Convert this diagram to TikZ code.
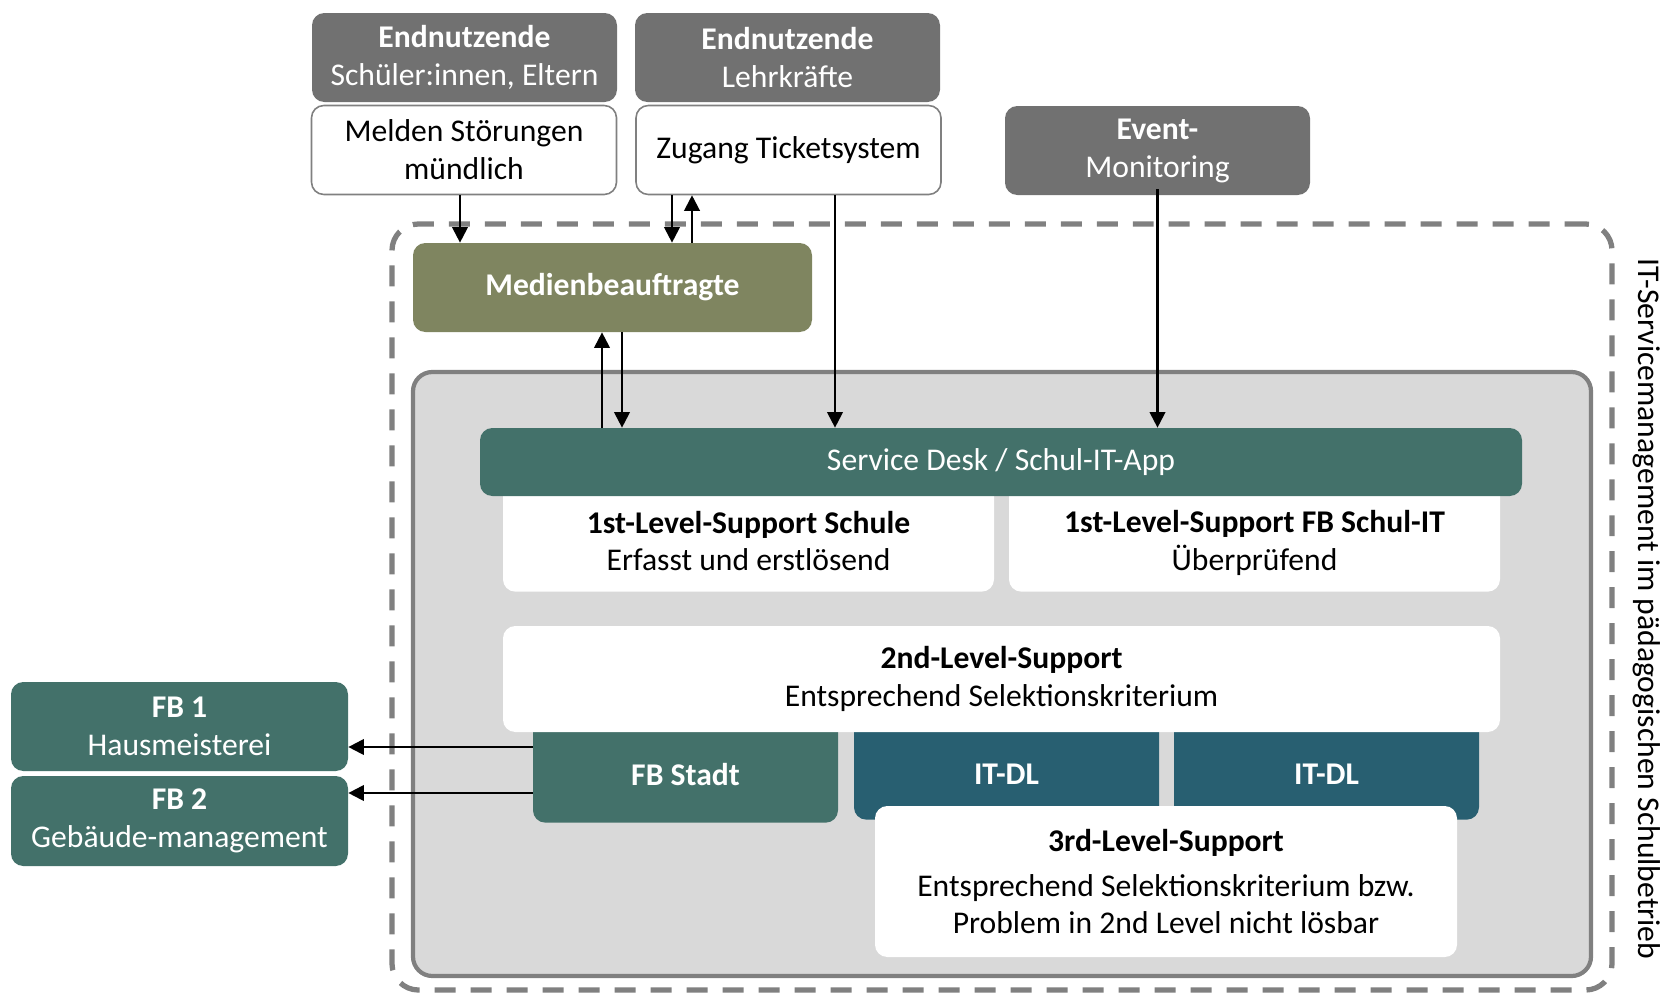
\documentclass[tikz,border=0pt]{standalone}
\usepackage{fontspec}
\setmainfont{Carlito}
\usepackage{tikz}
\usetikzlibrary{arrows.meta}

\definecolor{usergray}{HTML}{717171}
\definecolor{olive}{HTML}{7F8560}
\definecolor{teal}{HTML}{43716A}
\definecolor{petrol}{HTML}{285F71}
\definecolor{panelgray}{HTML}{D9D9D9}
\definecolor{linegray}{HTML}{808080}

% one unit of the drawing grid
\newdimen\pxu \pxu=0.02cm

\tikzset{
  every node/.style={font=\fontsize{18}{21.6}\selectfont, align=center, inner sep=0pt},
  box/.style={rounded corners=7pt, minimum width=305\pxu, minimum height=89\pxu},
  userbox/.style={box, fill=usergray, text=white},
  inbox/.style={box, fill=white, draw=linegray, line width=0.9pt},
  olivebox/.style={box, fill=olive, text=white},
  tealbox/.style={box, fill=teal, text=white},
  petrolbox/.style={box, fill=petrol, text=white},
  levelbox/.style={box, fill=white},
  arr/.style={line width=1.2pt, -{Triangle[length=3.1mm,width=3.1mm]}},
}

\begin{document}
\begin{tikzpicture}[x=0.02cm, y=-0.02cm]
  \useasboundingbox (0,0) rectangle (1663,994);

  % outer frame: IT service management
  \node[draw=linegray, line width=3pt, dash pattern=on 0.42cm off 0.3cm, rounded corners=15pt,
        minimum width=1220\pxu, minimum height=766\pxu] (ism) at (1002,607) {};
  \node[rotate=-90] (ismlabel) at (1647,609) {IT-Servicemanagement im pädagogischen Schulbetrieb};

  % end users and monitoring
  \node[userbox] (sus) at (464.5,57.5) {\textbf{Endnutzende}\\Schüler:innen, Eltern};
  \node[inbox] (melden) at (464,150) {Melden Störungen\\mündlich};
  \node[userbox] (lk) at (787.5,57.5) {\textbf{Endnutzende}\\Lehrkräfte};
  \node[inbox] (zugang) at (788.5,150) {Zugang Ticketsystem};
  \node[userbox] (event) at (1157.5,150.5) {\textbf{Event-}\\Monitoring};

  \node[olivebox, minimum width=399\pxu] (medien) at (612.5,287.5) {\textbf{Medienbeauftragte}};

  % school IT panel
  \node[fill=panelgray, draw=linegray, line width=2.4pt, rounded corners=11pt,
        minimum width=1178\pxu, minimum height=604\pxu] (schulit) at (1002,674) {};

  % 1st level (tops hidden under the service desk)
  \node[levelbox, minimum width=491\pxu, minimum height=130\pxu, anchor=south] (lvla) at (748.5,592) {};
  \node (lvlatxt) at (748.5,541) {\textbf{1st-Level-Support Schule}\\Erfasst und erstlösend};
  \node[levelbox, minimum width=491\pxu, minimum height=130\pxu, anchor=south] (lvlb) at (1254.5,592) {};
  \node (lvlbtxt) at (1254.5,543) {\textbf{1st-Level-Support FB Schul-IT}\\Überprüfend};

  \node[tealbox, minimum width=1042\pxu, minimum height=68\pxu] (desk) at (1001,462) {Service Desk / Schul-IT-App};

  % 3rd level partners
  \node[tealbox, minimum height=115\pxu, anchor=south] (stadt) at (685.5,823) {};
  \node[text=white] (stadttxt) at (685.5,775) {\textbf{FB Stadt}};
  \node[petrolbox, minimum height=112\pxu, anchor=south] (itdla) at (1006.5,820) {};
  \node[text=white] (itdlatxt) at (1006.5,774) {\textbf{IT-DL}};
  \node[petrolbox, minimum height=112\pxu, anchor=south] (itdlb) at (1326.5,820) {};
  \node[text=white] (itdlbtxt) at (1326.5,774) {\textbf{IT-DL}};

  \node[levelbox, minimum width=997\pxu, minimum height=106\pxu] (lvl2) at (1001.5,679)
    {\textbf{2nd-Level-Support}\\Entsprechend Selektionskriterium};
  \node[levelbox, minimum width=582\pxu, minimum height=151\pxu] (lvl3) at (1166,881.5)
    {\textbf{3rd-Level-Support}\\[4pt]Entsprechend Selektionskriterium bzw.\\Problem in 2nd Level nicht lösbar};

  % external departments
  \node[tealbox, minimum width=337\pxu] (fba) at (179.5,726.5) {\textbf{FB 1}\\Hausmeisterei};
  \node[tealbox, minimum width=337\pxu, minimum height=90\pxu] (fbb) at (179.5,821) {\textbf{FB 2}\\Gebäude-management};

  % arrows
  \draw[arr] (melden.south -| 460,0) -- (medien.north -| 460,0);
  \draw[arr] (zugang.south -| 672,0) -- (medien.north -| 672,0);
  \draw[arr] (medien.north -| 692,0) -- (zugang.south -| 692,0);
  \draw[arr] (zugang.south -| 835,0) -- (desk.north -| 835,0);
  \draw[arr] (event.center |- 0,189) -- (desk.north -| event.center);
  \draw[arr] (desk.north -| 602,0) -- (medien.south -| 602,0);
  \draw[arr] (medien.south -| 622,0) -- (desk.north -| 622,0);
  \draw[arr] (stadt.west |- 0,747) -- (fba.east |- 0,747);
  \draw[arr] (stadt.west |- 0,793) -- (fbb.east |- 0,793);
\end{tikzpicture}
\end{document}
